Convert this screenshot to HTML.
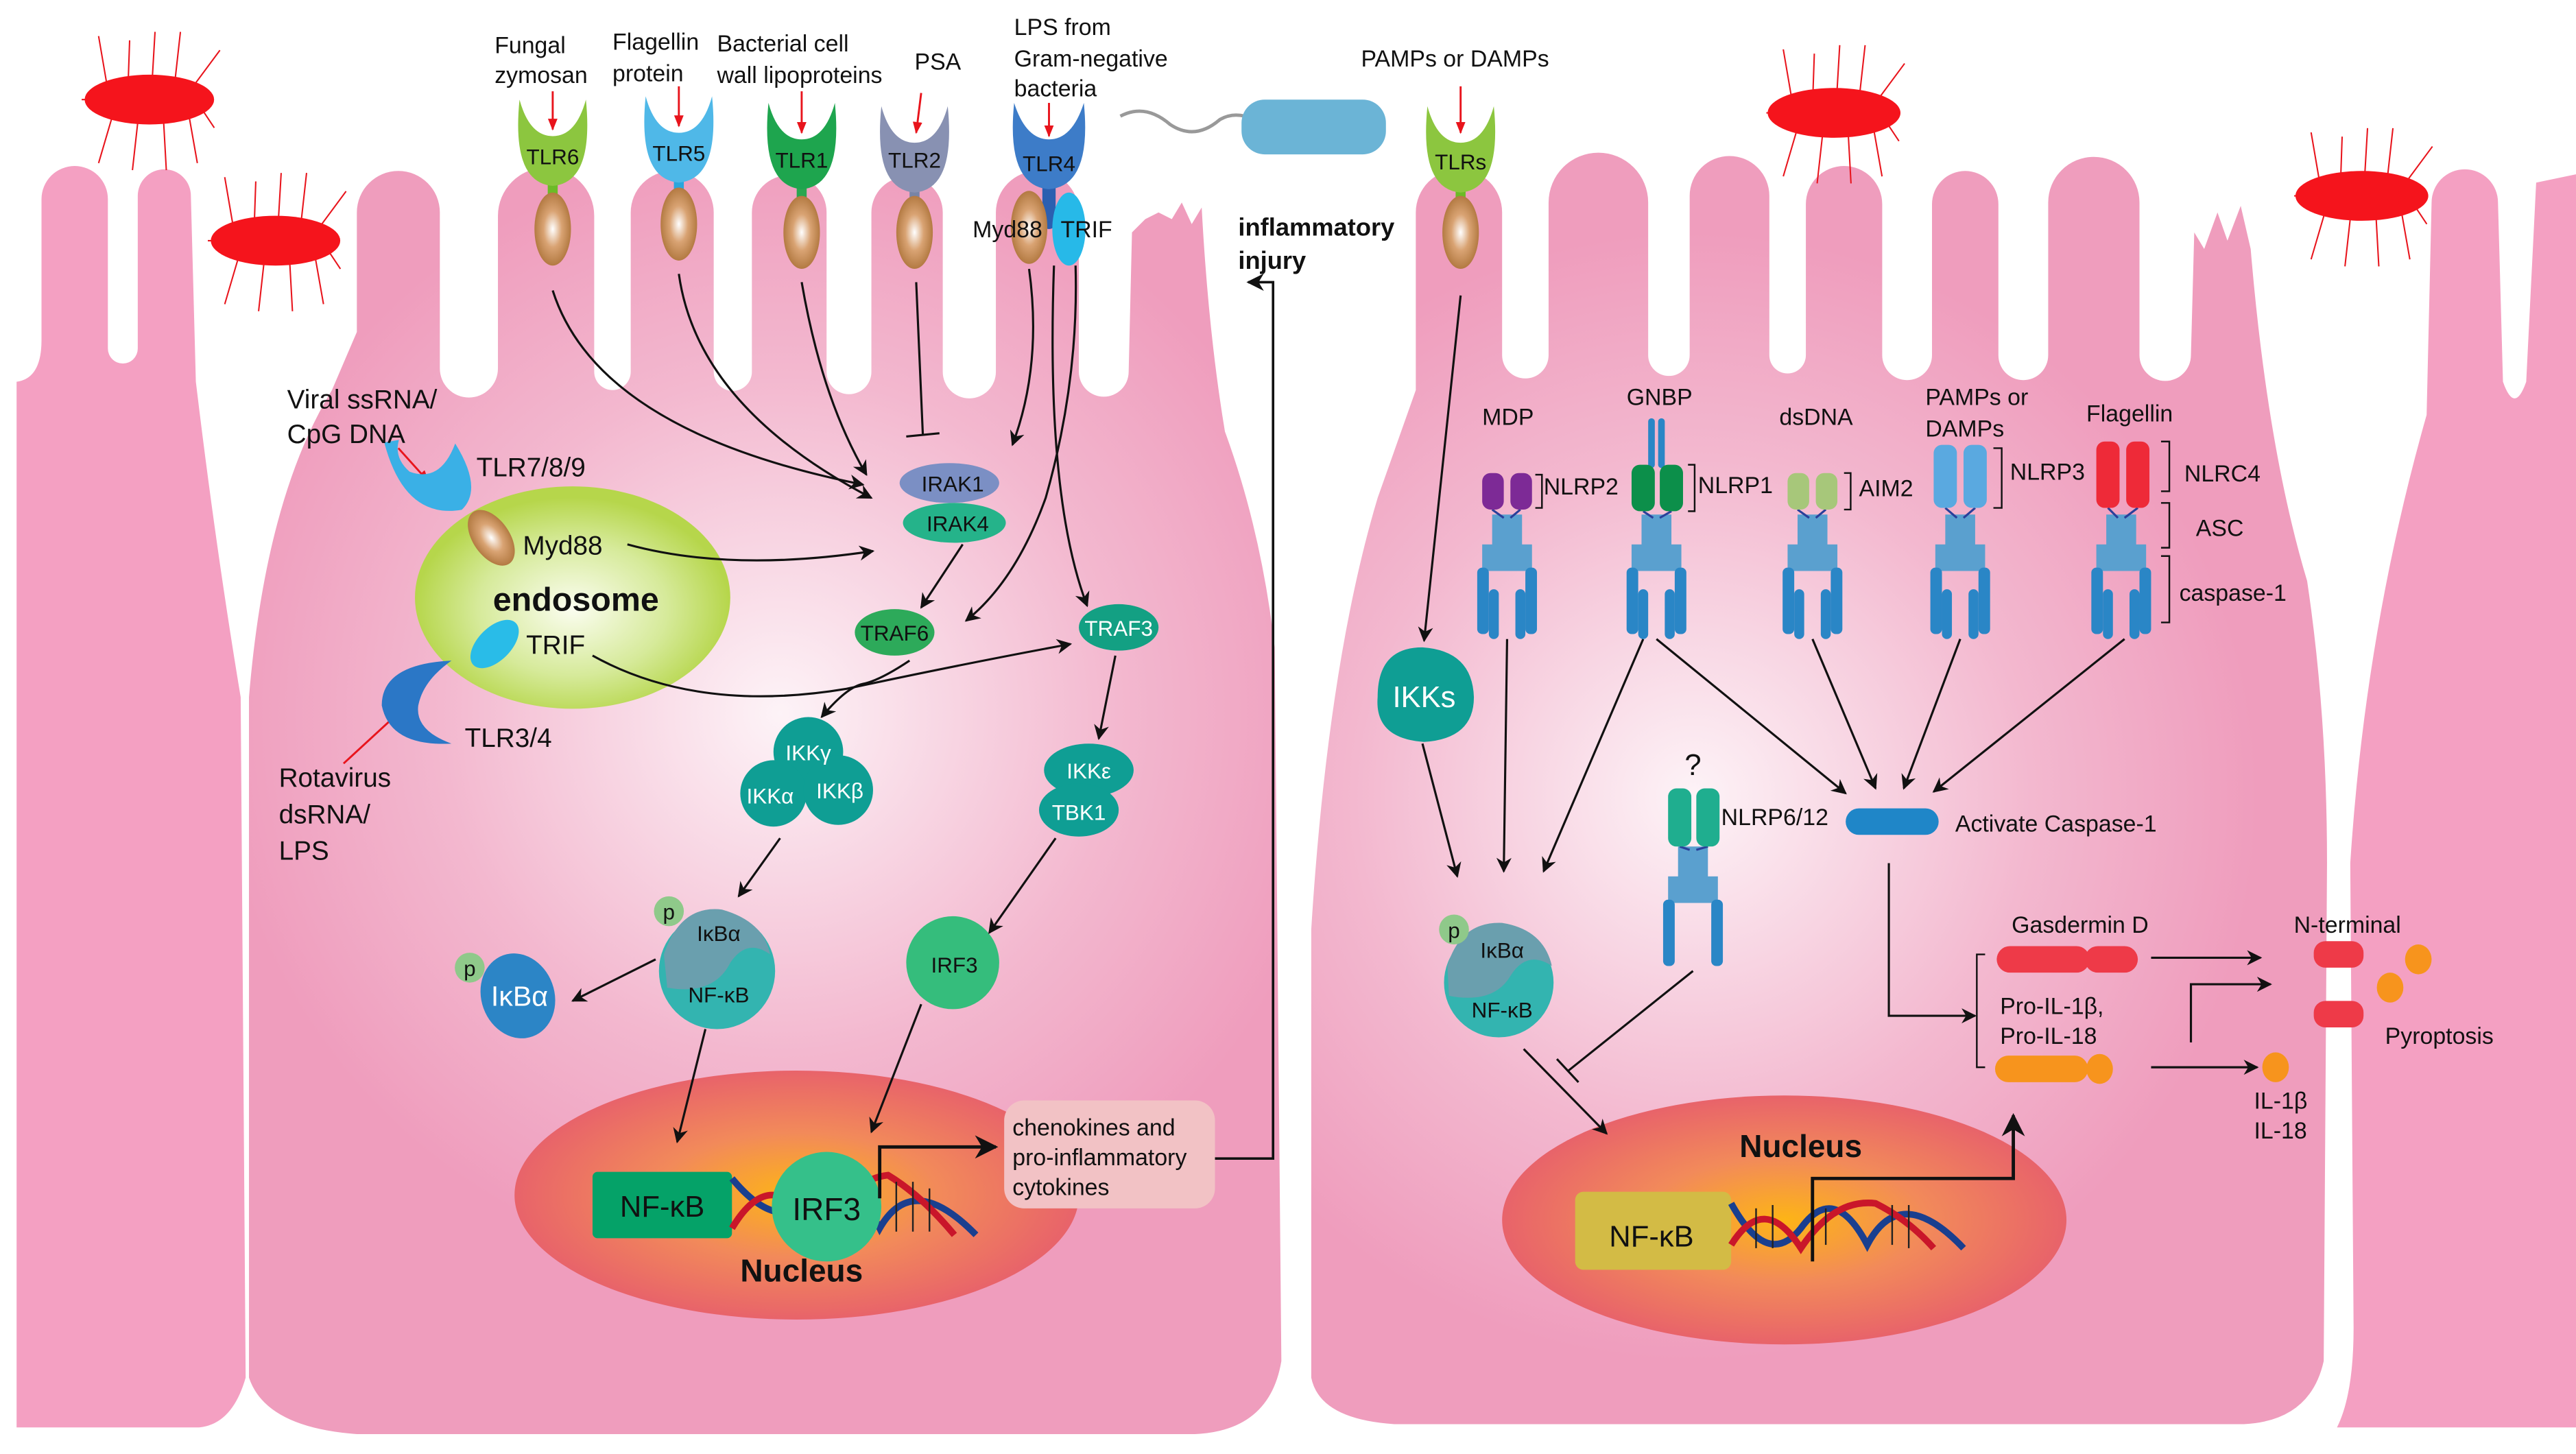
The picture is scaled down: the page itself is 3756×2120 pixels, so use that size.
<!DOCTYPE html>
<html><head><meta charset="utf-8"><style>html,body{margin:0;padding:0;background:#fff}svg{display:block}text{font-family:"Liberation Sans",sans-serif;fill:#111}</style></head>
<body>
<svg width="3756" height="2120" viewBox="0 0 1552 876" preserveAspectRatio="none" xmlns="http://www.w3.org/2000/svg">
<defs>
<radialGradient id="cl" cx="470" cy="430" r="340" gradientUnits="userSpaceOnUse"><stop offset="0" stop-color="#fdf3f7"/><stop offset="0.6" stop-color="#f3b8cf"/><stop offset="1" stop-color="#ef9dbd"/></radialGradient>
<radialGradient id="cr" cx="1020" cy="480" r="340" gradientUnits="userSpaceOnUse"><stop offset="0" stop-color="#fdf3f7"/><stop offset="0.6" stop-color="#f3b8cf"/><stop offset="1" stop-color="#ef9dbd"/></radialGradient>
<radialGradient id="nuc"><stop offset="0" stop-color="#fdb416"/><stop offset="0.5" stop-color="#f28a5a"/><stop offset="1" stop-color="#e8636a"/></radialGradient>
<radialGradient id="endo" cx="0.5" cy="0.55"><stop offset="0" stop-color="#fbfdf0"/><stop offset="0.6" stop-color="#d6ea9a"/><stop offset="1" stop-color="#b6d64b"/></radialGradient>
<radialGradient id="brown" cx="0.5" cy="0.5"><stop offset="0" stop-color="#fff"/><stop offset="0.5" stop-color="#d9a373"/><stop offset="1" stop-color="#b37a42"/></radialGradient>
<marker id="a" viewBox="0 0 10 10" refX="9" refY="5" markerWidth="7" markerHeight="7" orient="auto"><path d="M0,0 L10,5 L0,10 L3,5z" fill="#111"/></marker>
<marker id="r" viewBox="0 0 10 10" refX="9" refY="5" markerWidth="6" markerHeight="6" orient="auto"><path d="M0,1 L10,5 L0,9z" fill="#e8141c"/></marker>
</defs>

<!-- far left block -->
<path d="M10,860 L10,230 Q25,228 25,205 L25,120 A20,20 0 0 1 65,120 L65,210 A9,9 0 0 0 83,210 L83,118 A16,16 0 0 1 115,118 L118,230 Q130,330 145,420 L148,830 Q140,858 120,860 Z" fill="#f4a0c2"/>
<!-- far right block -->
<path d="M1408,860 Q1418,840 1418,800 L1416,520 Q1425,380 1462,250 L1465,122 A20,20 0 0 1 1505,122 L1508,230 Q1515,250 1522,230 L1528,110 L1552,105 L1552,860 Z" fill="#f4a0c2"/>

<!-- left cell -->
<path d="M150,830 L150,420 Q160,300 200,235 L215,200 L215,128 A25,25 0 0 1 265,128 L265,222 A17.5,17.5 0 0 0 300,222 L300,130 A29,29 0 0 1 358,130 L358,224 A11,11 0 0 0 380,224 L380,128 A25,25 0 0 1 430,128 L430,224 A11.5,11.5 0 0 0 453,224 L453,128 A22.5,22.5 0 0 1 498,128 L498,224 A13.5,13.5 0 0 0 525,224 L525,128 A21.5,21.5 0 0 1 568,128 L568,224 A16,16 0 0 0 600,224 L600,128 A25,25 0 0 1 650,128 L650,224 A15,15 0 0 0 680,224 L682,140 L690,132 L698,128 L706,132 L712,122 L718,135 L724,125 Q728,200 738,260 Q760,320 768,390 L772,820 Q765,862 720,864 L215,864 Q160,860 150,830 Z" fill="url(#cl)"/>
<!-- right cell -->
<path d="M790,830 L790,560 Q800,400 830,300 L853,235 L853,128 A26,26 0 0 1 905,128 L905,214 A14,14 0 0 0 933,214 L933,122 A30,30 0 0 1 993,122 L993,214 A12.5,12.5 0 0 0 1018,214 L1018,118 A24,24 0 0 1 1066,118 L1066,214 A11,11 0 0 0 1088,214 L1088,123 A23,23 0 0 1 1134,123 L1134,214 A15,15 0 0 0 1164,214 L1164,123 A20,20 0 0 1 1204,123 L1204,214 A15,15 0 0 0 1234,214 L1234,122 A27.5,27.5 0 0 1 1289,122 L1289,214 A15.5,15.5 0 0 0 1320,214 L1322,140 L1328,150 L1336,128 L1342,145 L1350,124 L1356,150 Q1366,270 1390,350 Q1402,430 1402,520 L1400,820 Q1392,856 1352,858 L840,858 Q795,855 790,830 Z" fill="url(#cr)"/>

<!-- bacteria -->
<g stroke="#e8141c" stroke-width="1" fill="none">
<g transform="translate(90,60) scale(0.85)"><path d="M-48,0 H-38 M-30,-10 L-36,-45 M-15,-13 L-14,-42 M2,-14 L4,-48 M18,-12 L22,-48 M30,-8 L50,-35 M36,5 L46,20 M28,11 L34,45 M10,14 L12,50 M-8,14 L-12,50 M-26,11 L-36,45"/></g>
<g transform="translate(166,145) scale(0.85)"><path d="M-48,0 H-38 M-30,-10 L-36,-45 M-15,-13 L-14,-42 M2,-14 L4,-48 M18,-12 L22,-48 M30,-8 L50,-35 M36,5 L46,20 M28,11 L34,45 M10,14 L12,50 M-8,14 L-12,50 M-26,11 L-36,45"/></g>
<g transform="translate(1105,68) scale(0.85)"><path d="M-48,0 H-38 M-30,-10 L-36,-45 M-15,-13 L-14,-42 M2,-14 L4,-48 M18,-12 L22,-48 M30,-8 L50,-35 M36,5 L46,20 M28,11 L34,45 M10,14 L12,50 M-8,14 L-12,50 M-26,11 L-36,45"/></g>
<g transform="translate(1423,118) scale(0.85)"><path d="M-48,0 H-38 M-30,-10 L-36,-45 M-15,-13 L-14,-42 M2,-14 L4,-48 M18,-12 L22,-48 M30,-8 L50,-35 M36,5 L46,20 M28,11 L34,45 M10,14 L12,50 M-8,14 L-12,50 M-26,11 L-36,45"/></g>
</g>
<g fill="#f5141c"><ellipse cx="90" cy="60" rx="39" ry="15"/><ellipse cx="166" cy="145" rx="39" ry="15"/><ellipse cx="1105" cy="68" rx="40" ry="15"/><ellipse cx="1423" cy="118" rx="40" ry="15"/></g>
<!-- blue bacterium -->
<path d="M675,70 Q690,62 705,75 Q720,85 735,72 Q742,68 750,70" stroke="#999" stroke-width="2" fill="none"/>
<rect x="748" y="60" width="87" height="33" rx="14" fill="#6bb4d6"/>

<!-- TLR receptors -->
<g transform="translate(333,0)"><rect x="-3" y="105" width="6" height="15" fill="#6cbb27"/><ellipse cx="0" cy="138" rx="11" ry="22" fill="url(#brown)"/><path d="M-20,60 Q-25,110 0,112 Q25,110 20,60 Q14,82 0,82 Q-14,82 -20,60Z" fill="#8cc63f"/><text x="0" y="99" font-size="13" text-anchor="middle">TLR6</text></g>
<g transform="translate(409,0)"><rect x="-3" y="105" width="6" height="15" fill="#2aa6dd"/><ellipse cx="0" cy="135" rx="11" ry="22" fill="url(#brown)"/><path d="M-20,58 Q-25,108 0,110 Q25,108 20,58 Q14,80 0,80 Q-14,80 -20,58Z" fill="#4fb8e8"/><text x="0" y="97" font-size="13" text-anchor="middle">TLR5</text></g>
<g transform="translate(483,0)"><rect x="-3" y="107" width="6" height="15" fill="#2aa650"/><ellipse cx="0" cy="140" rx="11" ry="22" fill="url(#brown)"/><path d="M-20,62 Q-25,112 0,114 Q25,112 20,62 Q14,84 0,84 Q-14,84 -20,62Z" fill="#1ea54e"/><text x="0" y="101" font-size="13" text-anchor="middle">TLR1</text></g>
<g transform="translate(551,0)"><rect x="-3" y="108" width="6" height="15" fill="#7784a6"/><ellipse cx="0" cy="140" rx="11" ry="22" fill="url(#brown)"/><path d="M-20,64 Q-25,114 0,116 Q25,114 20,64 Q14,86 0,86 Q-14,86 -20,64Z" fill="#8891b2"/><text x="0" y="101" font-size="13" text-anchor="middle">TLR2</text></g>
<g transform="translate(632,0)"><rect x="-4" y="108" width="8" height="30" rx="4" fill="#2b5fb0"/><ellipse cx="-12" cy="137" rx="11" ry="22" fill="url(#brown)"/><ellipse cx="12" cy="138" rx="10" ry="22" fill="#27b9e8"/><path d="M-21,62 Q-26,112 0,114 Q26,112 21,62 Q14,84 0,84 Q-14,84 -21,62Z" fill="#3d7cc8"/><text x="0" y="103" font-size="13" text-anchor="middle">TLR4</text></g>
<g transform="translate(880,0)"><rect x="-3" y="110" width="6" height="15" fill="#6cbb27"/><ellipse cx="0" cy="140" rx="11" ry="22" fill="url(#brown)"/><path d="M-20,64 Q-25,114 0,116 Q25,114 20,64 Q14,86 0,86 Q-14,86 -20,64Z" fill="#8cc63f"/><text x="0" y="102" font-size="13" text-anchor="middle">TLRs</text></g>
<!-- red arrows -->
<g stroke="#e8141c" stroke-width="1.2" marker-end="url(#r)">
<line x1="333" y1="55" x2="333" y2="78"/><line x1="409" y1="52" x2="409" y2="76"/><line x1="483" y1="55" x2="483" y2="80"/><line x1="555" y1="56" x2="552" y2="80"/><line x1="632" y1="62" x2="632" y2="82"/><line x1="880" y1="52" x2="880" y2="80"/>
<line x1="240" y1="270" x2="258" y2="290"/><line x1="207" y1="460" x2="245" y2="425"/>
</g>
<g font-size="14">
<text x="298" y="32">Fungal</text><text x="298" y="50">zymosan</text>
<text x="369" y="30">Flagellin</text><text x="369" y="49">protein</text>
<text x="432" y="31">Bacterial cell</text><text x="432" y="50">wall lipoproteins</text>
<text x="551" y="42">PSA</text>
<text x="611" y="21">LPS from</text><text x="611" y="40">Gram-negative</text><text x="611" y="58">bacteria</text>
<text x="586" y="143">Myd88</text><text x="639" y="143">TRIF</text>
<text x="820" y="40">PAMPs or DAMPs</text>
</g>
<text x="746" y="142" font-size="15" font-weight="bold">inflammatory</text>
<text x="746" y="162" font-size="15" font-weight="bold">injury</text>

<!-- endosome -->
<ellipse cx="345" cy="360" rx="95" ry="67" fill="url(#endo)"/>
<path d="M236,262 Q240,310 275,310 Q290,300 278,270 Q265,292 248,282 Q240,272 245,262Z" fill="#3ab0e6" transform="rotate(-10 260 290)"/>
<ellipse cx="296" cy="324" rx="11" ry="19" fill="url(#brown)" transform="rotate(-35 296 324)"/>
<ellipse cx="298" cy="388" rx="10" ry="18" fill="#29bce8" transform="rotate(45 298 388)"/>
<path d="M272,398 Q230,400 230,425 Q235,450 272,448 Q250,440 252,425 Q255,410 272,398Z" fill="#2b77c6"/>
<g font-size="16"><text x="173" y="246">Viral ssRNA/</text><text x="173" y="267">CpG DNA</text><text x="287" y="287">TLR7/8/9</text><text x="315" y="334">Myd88</text><text x="317" y="394">TRIF</text><text x="280" y="450">TLR3/4</text><text x="168" y="474">Rotavirus</text><text x="168" y="496">dsRNA/</text><text x="168" y="518">LPS</text></g>
<text x="297" y="368" font-size="20" font-weight="bold">endosome</text>

<!-- left signaling nodes -->
<g font-size="13" text-anchor="middle">
<ellipse cx="572" cy="291" rx="30" ry="12" fill="#7b8fc4"/><text x="574" y="296">IRAK1</text>
<ellipse cx="575" cy="315" rx="31" ry="12" fill="#25b38a"/><text x="577" y="320">IRAK4</text>
<ellipse cx="539" cy="381" rx="24" ry="14" fill="#2daa5a"/><text x="539" y="386">TRAF6</text>
<ellipse cx="674" cy="378" rx="24" ry="14" fill="#13a083"/><text x="674" y="383" style="fill:#fff">TRAF3</text>
<circle cx="487" cy="453" r="21" fill="#0f9e94"/><circle cx="466" cy="478" r="20" fill="#0f9e94"/><circle cx="505" cy="476" r="21" fill="#0f9e94"/>
<text x="487" y="458" style="fill:#fff">IKKγ</text><text x="464" y="484" style="fill:#fff">IKKα</text><text x="506" y="481" style="fill:#fff">IKKβ</text>
<ellipse cx="656" cy="464" rx="27" ry="16" fill="#0f9e94"/><ellipse cx="650" cy="488" rx="24" ry="16" fill="#0f9e94"/>
<text x="656" y="469" style="fill:#fff">IKKε</text><text x="650" y="494" style="fill:#fff">TBK1</text>
<circle cx="574" cy="580" r="28" fill="#35bd7c"/><text x="575" y="586">IRF3</text>
<circle cx="432" cy="585" r="35" fill="#33b4b0"/><path d="M400,575 Q410,545 435,548 Q460,555 464,575 Q450,565 440,580 Q430,600 402,595Z" fill="#6a9fae"/>
<circle cx="403" cy="549" r="9" fill="#8fc98a"/><text x="403" y="554">p</text>
<text x="433" y="567">IκBα</text><text x="433" y="604">NF-κB</text>
<ellipse cx="312" cy="600" rx="22" ry="26" fill="#2c85c6" transform="rotate(-20 312 600)"/><circle cx="283" cy="583" r="9" fill="#8fc98a"/><text x="283" y="588">p</text>
<text x="313" y="606" font-size="17" style="fill:#fff">IκBα</text>
</g>

<!-- left nucleus -->
<ellipse cx="480" cy="720" rx="170" ry="75" fill="url(#nuc)"/>
<rect x="357" y="706" width="84" height="40" rx="3" fill="#05a268"/>
<text x="399" y="733" font-size="18" text-anchor="middle">NF-κB</text>
<path d="M441,710 Q470,745 490,720 Q510,700 530,740 Q550,705 588,744" stroke="#1a3f8f" stroke-width="4" fill="none"/>
<path d="M441,740 Q465,700 490,740 Q515,710 535,708 Q555,720 575,744" stroke="#c9162a" stroke-width="4" fill="none"/>
<g stroke="#222" stroke-width="1"><line x1="540" y1="712" x2="540" y2="742"/><line x1="550" y1="712" x2="550" y2="742"/><line x1="560" y1="716" x2="560" y2="742"/></g>
<circle cx="498" cy="727" r="33" fill="#35c08a"/><text x="498" y="735" font-size="19" text-anchor="middle">IRF3</text>
<text x="446" y="772" font-size="19" font-weight="bold">Nucleus</text>
<path d="M530,722 V691 H600" stroke="#111" stroke-width="2" fill="none" marker-end="url(#a)"/>
<rect x="605" y="663" width="127" height="65" rx="12" fill="#f2c2c5"/>
<g font-size="14"><text x="610" y="684">chenokines and</text><text x="610" y="702">pro-inflammatory</text><text x="610" y="720">cytokines</text></g>
<path d="M732,698 H767 V170 H752" stroke="#111" stroke-width="1.5" fill="none" marker-end="url(#a)"/>

<!-- left arrows -->
<g stroke="#111" stroke-width="1.3" fill="none" marker-end="url(#a)">
<path d="M333,175 Q360,260 520,292"/>
<path d="M409,165 Q420,245 525,300"/>
<path d="M483,170 Q495,240 522,286"/>
<path d="M620,162 Q628,220 610,268"/>
<path d="M378,328 Q440,345 526,332"/>
<path d="M648,160 Q650,230 630,300 Q612,350 582,374"/>
<path d="M635,160 Q630,300 655,365"/>
<path d="M357,395 Q420,430 510,415 Q580,400 645,388"/>
<path d="M580,328 L555,366"/>
<path d="M548,398 Q530,410 520,412 Q510,414 495,432"/>
<path d="M672,395 L662,445"/>
<path d="M470,505 L445,540"/>
<path d="M395,578 L345,603"/>
<path d="M636,505 L596,562"/>
<path d="M425,620 L408,688"/>
<path d="M555,605 L525,682"/>
</g>
<path d="M552,170 L556,262 M546,263 L566,261" stroke="#111" stroke-width="1.3" fill="none"/>

<!-- right nucleus (drawn before arrows) -->
<ellipse cx="1075" cy="735" rx="170" ry="75" fill="url(#nuc)"/>
<rect x="949" y="718" width="94" height="47" rx="5" fill="#d3bb45"/>
<text x="995" y="751" font-size="18" text-anchor="middle">NF-κB</text>
<path d="M1043,725 Q1065,765 1085,740 Q1105,712 1125,750 Q1145,712 1183,752" stroke="#1a3f8f" stroke-width="4" fill="none"/>
<path d="M1043,750 Q1063,718 1085,752 Q1105,722 1130,725 Q1150,735 1165,752" stroke="#c9162a" stroke-width="4" fill="none"/>
<g stroke="#222" stroke-width="1"><line x1="1058" y1="728" x2="1058" y2="752"/><line x1="1068" y1="726" x2="1068" y2="752"/><line x1="1100" y1="728" x2="1100" y2="750"/><line x1="1140" y1="726" x2="1140" y2="750"/><line x1="1150" y1="726" x2="1150" y2="752"/></g>
<text x="1048" y="697" font-size="19" font-weight="bold">Nucleus</text>

<!-- right side arrows -->
<g stroke="#111" stroke-width="1.3" fill="none" marker-end="url(#a)">
<path d="M880,178 L858,386"/>
<path d="M857,448 L878,528"/>
<path d="M908,385 L906,525"/>
<path d="M990,385 L930,525"/>
<path d="M998,385 L1112,478"/>
<path d="M1092,385 L1130,475"/>
<path d="M1181,385 L1147,475"/>
<path d="M1280,385 L1165,477"/>
<path d="M918,632 L968,683"/>
<path d="M1138,520 V612 H1190"/>
<path d="M1296,577 H1362"/>
<path d="M1296,643 H1360"/>
<path d="M1320,628 V593 H1368"/>
</g>
<path d="M1092,760 V710 H1213 V672" stroke="#111" stroke-width="2" fill="none" marker-end="url(#a)"/>
<path d="M1020,585 L945,645 M938,638 L951,652" stroke="#111" stroke-width="1.3" fill="none"/>

<path d="M830,420 Q830,390 857,390 Q887,392 888,420 Q888,445 858,447 Q828,445 830,420Z" fill="#0f9e94"/>
<text x="858" y="426" font-size="18" text-anchor="middle" style="fill:#fff">IKKs</text>

<!-- inflammasomes -->
<g fill="#2a86c6">
<g transform="translate(908,0)"><rect x="-9" y="310" width="18" height="20" fill="#5aa0cf"/><rect x="-15" y="328" width="30" height="16" fill="#5aa0cf"/><rect x="-18" y="342" width="7" height="40" rx="3"/><rect x="11" y="342" width="7" height="40" rx="3"/><rect x="-11" y="355" width="6" height="30" rx="3"/><rect x="5" y="355" width="6" height="30" rx="3"/></g>
<g transform="translate(998,0)"><rect x="-9" y="310" width="18" height="20" fill="#5aa0cf"/><rect x="-15" y="328" width="30" height="16" fill="#5aa0cf"/><rect x="-18" y="342" width="7" height="40" rx="3"/><rect x="11" y="342" width="7" height="40" rx="3"/><rect x="-11" y="355" width="6" height="30" rx="3"/><rect x="5" y="355" width="6" height="30" rx="3"/><rect x="-5" y="252" width="4" height="30" rx="2"/><rect x="1" y="252" width="4" height="30" rx="2"/></g>
<g transform="translate(1092,0)"><rect x="-9" y="310" width="18" height="20" fill="#5aa0cf"/><rect x="-15" y="328" width="30" height="16" fill="#5aa0cf"/><rect x="-18" y="342" width="7" height="40" rx="3"/><rect x="11" y="342" width="7" height="40" rx="3"/><rect x="-11" y="355" width="6" height="30" rx="3"/><rect x="5" y="355" width="6" height="30" rx="3"/></g>
<g transform="translate(1181,0)"><rect x="-9" y="310" width="18" height="20" fill="#5aa0cf"/><rect x="-15" y="328" width="30" height="16" fill="#5aa0cf"/><rect x="-18" y="342" width="7" height="40" rx="3"/><rect x="11" y="342" width="7" height="40" rx="3"/><rect x="-11" y="355" width="6" height="30" rx="3"/><rect x="5" y="355" width="6" height="30" rx="3"/></g>
<g transform="translate(1278,0)"><rect x="-9" y="310" width="18" height="20" fill="#5aa0cf"/><rect x="-15" y="328" width="30" height="16" fill="#5aa0cf"/><rect x="-18" y="342" width="7" height="40" rx="3"/><rect x="11" y="342" width="7" height="40" rx="3"/><rect x="-11" y="355" width="6" height="30" rx="3"/><rect x="5" y="355" width="6" height="30" rx="3"/></g>
<g transform="translate(1020,180)"><rect x="-9" y="330" width="18" height="20" fill="#5aa0cf"/><rect x="-15" y="348" width="30" height="16" fill="#5aa0cf"/><rect x="-18" y="362" width="7" height="40" rx="3"/><rect x="11" y="362" width="7" height="40" rx="3"/></g>
</g>
<g stroke="#2a3f9a" stroke-width="1.3">
<path d="M899,307 L906,312 M916,307 L910,312"/><path d="M990,308 L996,312 M1007,308 L1000,312"/><path d="M1083,307 L1090,312 M1100,307 L1094,312"/><path d="M1172,306 L1179,312 M1190,306 L1183,312"/><path d="M1270,306 L1276,312 M1288,306 L1280,312"/><path d="M1012,510 L1018,512 M1029,510 L1022,512"/>
</g>
<!-- beads -->
<g fill="#7d2a96"><rect x="893" y="285" width="13" height="22" rx="5"/><rect x="910" y="285" width="13" height="22" rx="5"/></g>
<g fill="#0c8f4a"><rect x="983" y="280" width="14" height="28" rx="5"/><rect x="1000" y="280" width="14" height="28" rx="5"/></g>
<g fill="#a7c77a"><rect x="1077" y="285" width="13" height="22" rx="5"/><rect x="1094" y="285" width="13" height="22" rx="5"/></g>
<g fill="#5aa9e0"><rect x="1165" y="268" width="14" height="38" rx="5"/><rect x="1183" y="268" width="14" height="38" rx="5"/></g>
<g fill="#ee2a38"><rect x="1263" y="266" width="14" height="40" rx="5"/><rect x="1281" y="266" width="14" height="40" rx="5"/></g>
<g fill="#1fae8f"><rect x="1005" y="475" width="14" height="35" rx="5"/><rect x="1022" y="475" width="14" height="35" rx="5"/></g>
<g stroke="#111" stroke-width="1" fill="none">
<path d="M925,286 h4 v20 h-4"/><path d="M1017,280 h4 v28 h-4"/><path d="M1111,285 h4 v22 h-4"/><path d="M1201,270 h5 v36 h-5"/><path d="M1302,266 h5 v30 h-5"/><path d="M1302,303 h5 v27 h-5"/><path d="M1302,335 h5 v40 h-5"/>
<path d="M1196,575 h-5 v68 h5"/>
</g>
<g font-size="14">
<text x="893" y="256">MDP</text><text x="980" y="244">GNBP</text><text x="1072" y="256">dsDNA</text><text x="1160" y="244">PAMPs or</text><text x="1160" y="263">DAMPs</text><text x="1257" y="254">Flagellin</text>
<text x="930" y="298">NLRP2</text><text x="1023" y="297">NLRP1</text><text x="1120" y="299">AIM2</text><text x="1211" y="289">NLRP3</text><text x="1316" y="290">NLRC4</text><text x="1323" y="323">ASC</text><text x="1313" y="362">caspase-1</text>
<text x="1015" y="467" font-size="18">?</text><text x="1037" y="497">NLRP6/12</text>
<text x="1178" y="501">Activate Caspase-1</text>
<text x="1212" y="562">Gasdermin D</text><text x="1205" y="611">Pro-IL-1β,</text><text x="1205" y="629">Pro-IL-18</text>
<text x="1382" y="562">N-terminal</text><text x="1437" y="629">Pyroptosis</text><text x="1358" y="668">IL-1β</text><text x="1358" y="686">IL-18</text>
</g>
<rect x="1112" y="487" width="56" height="16" rx="8" fill="#1f86c8"/>
<rect x="1203" y="570" width="56" height="16" rx="8" fill="#ee3a48"/><rect x="1256" y="570" width="32" height="16" rx="8" fill="#ee3a48"/>
<rect x="1202" y="636" width="56" height="16" rx="8" fill="#f7941d"/><ellipse cx="1265" cy="644" rx="8" ry="9" fill="#f7941d"/>
<rect x="1394" y="567" width="30" height="16" rx="7" fill="#ee3a48"/><rect x="1394" y="603" width="30" height="16" rx="7" fill="#ee3a48"/>
<ellipse cx="1457" cy="578" rx="8" ry="9" fill="#f7941d"/><ellipse cx="1440" cy="595" rx="8" ry="9" fill="#f7941d"/><ellipse cx="1371" cy="643" rx="8" ry="9" fill="#f7941d"/>

<!-- right IkB complex -->
<circle cx="903" cy="592" r="33" fill="#33b4b0"/><path d="M872,582 Q880,555 905,556 Q930,560 935,582 Q920,572 910,588 Q900,605 873,600Z" fill="#6a9fae"/>
<circle cx="876" cy="560" r="9" fill="#8fc98a"/>
<g font-size="13" text-anchor="middle"><text x="876" y="565">p</text><text x="905" y="577">IκBα</text><text x="905" y="613">NF-κB</text></g>
</svg>
</body></html>
